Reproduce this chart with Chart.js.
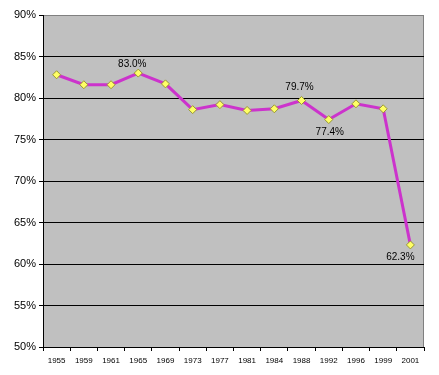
<!DOCTYPE html>
<html>
<head>
<meta charset="utf-8">
<script src="https://cdn.jsdelivr.net/npm/chart.js@4"></script>
<style>
html,body{margin:0;padding:0;background:#fff;}
#wrap{width:439px;height:375px;}
</style>
</head>
<body>
<div id="wrap"><canvas id="c" width="439" height="375"></canvas></div>
<script>
const years = ["1955","1959","1961","1965","1969","1973","1977","1981","1984","1988","1992","1996","1999","2001"];
const turnout = [82.8, 81.6, 81.6, 83.0, 81.7, 78.6, 79.2, 78.5, 78.7, 79.7, 77.4, 79.3, 78.7, 62.3];
const yTicks = [50, 55, 60, 65, 70, 75, 80, 85, 90];
const labeledPoints = [3, 9, 10, 13];

const bgPlugin = {
  id: 'bg',
  beforeDraw(chart) {
    const {ctx, chartArea: a} = chart;
    ctx.save();
    ctx.fillStyle = '#C0C0C0';
    ctx.fillRect(a.left, a.top, a.right - a.left, a.bottom - a.top);
    ctx.strokeStyle = '#808080';
    ctx.lineWidth = 1;
    ctx.strokeRect(a.left + 0.5, a.top + 0.5, a.right - a.left - 1, a.bottom - a.top);
    ctx.restore();
  }
};

const labelPlugin = {
  id: 'pointLabels',
  afterDatasetsDraw(chart) {
    const {ctx} = chart;
    const meta = chart.getDatasetMeta(0);
    const offsets = {3: [-6, -9], 9: [-2, -13], 10: [1, 13], 13: [-10, 12]};
    ctx.save();
    ctx.font = '10px "Liberation Sans", Arial, sans-serif';
    ctx.fillStyle = '#000';
    ctx.textAlign = 'center';
    ctx.textBaseline = 'middle';
    labeledPoints.forEach(i => {
      const p = meta.data[i];
      const o = offsets[i];
      ctx.fillText(turnout[i].toFixed(1) + '%', p.x + o[0], p.y + o[1]);
    });
    ctx.restore();
  }
};

new Chart(document.getElementById('c'), {
  type: 'line',
  data: {
    labels: years,
    datasets: [{
      data: turnout,
      borderColor: '#CC33CC',
      borderWidth: 3,
      pointStyle: 'rectRot',
      pointRadius: 4,
      pointHoverRadius: 4,
      pointBackgroundColor: '#FFFF66',
      pointBorderColor: '#999933',
      pointBorderWidth: 1,
      tension: 0,
      fill: false
    }]
  },
  options: {
    responsive: false,
    animation: false,
    events: [],
    layout: {padding: {top: 15, right: 15, left: 0, bottom: 0}},
    plugins: {legend: {display: false}, tooltip: {enabled: false}},
    scales: {
      x: {
        type: 'category',
        offset: true,
        grid: {
          offset: true,
          drawOnChartArea: false,
          drawTicks: true,
          tickLength: 4,
          color: '#000'
        },
        border: {color: '#000', width: 1},
        ticks: {
          color: '#000',
          font: {family: '"Liberation Sans", Arial, sans-serif', size: 8},
          maxRotation: 0,
          autoSkip: false,
          padding: 5
        },
        afterFit(s) { s.height = 28; }
      },
      y: {
        min: 50,
        max: 90,
        afterBuildTicks(s) { s.ticks = yTicks.map(v => ({value: v})); },
        grid: {
          color: ctx => (ctx.tick && ctx.tick.value === 90) ? '#808080' : '#000',
          tickColor: '#000',
          drawTicks: true,
          tickLength: 4,
          lineWidth: 1
        },
        border: {color: '#000', width: 1},
        ticks: {
          color: '#000',
          font: {family: '"Liberation Sans", Arial, sans-serif', size: 11},
          padding: 3,
          callback: v => v + '%'
        },
        afterFit(s) { s.width = 43; }
      }
    }
  },
  plugins: [bgPlugin, labelPlugin]
});
</script>
</body>
</html>
